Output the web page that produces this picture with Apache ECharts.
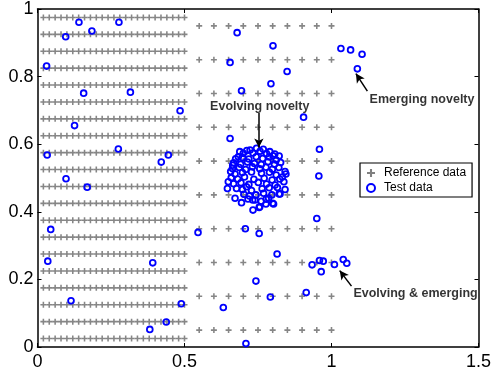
<!DOCTYPE html>
<html>
<head>
<meta charset="utf-8">
<script src="https://cdn.jsdelivr.net/npm/echarts@6/dist/echarts.min.js"></script>
<style>
  html, body { margin: 0; padding: 0; background: #fff; }
  #chart { width: 494px; height: 377px; }
</style>
</head>
<body>
<div id="chart"></div>
<script>
// Reference grid: dense block on the left, sparse block on the right
const denseCols = [0.02, 0.04, 0.06, 0.08, 0.10, 0.12, 0.14, 0.16, 0.18, 0.20, 0.22, 0.24, 0.26,
                   0.28, 0.30, 0.32, 0.34, 0.36, 0.38, 0.40, 0.42, 0.44, 0.46, 0.48, 0.50];
const denseRows = [0.025, 0.075, 0.125, 0.175, 0.225, 0.275, 0.325, 0.375, 0.425, 0.475,
                   0.525, 0.575, 0.625, 0.675, 0.725, 0.775, 0.825, 0.875, 0.925, 0.975];
const sparseCols = [0.55, 0.60, 0.65, 0.70, 0.75, 0.80, 0.85, 0.90, 0.95, 1.00];
const sparseRows = [0.05, 0.15, 0.25, 0.35, 0.45, 0.55, 0.65, 0.75, 0.85, 0.95];

// Test samples scattered over the dense block
const testLeft = [
  [0.141, 0.961], [0.096, 0.918], [0.185, 0.935], [0.277, 0.961], [0.031, 0.831],
  [0.157, 0.751], [0.316, 0.754], [0.485, 0.699], [0.126, 0.655], [0.033, 0.568],
  [0.275, 0.586], [0.445, 0.568], [0.421, 0.547], [0.097, 0.498], [0.169, 0.473],
  [0.045, 0.348], [0.035, 0.254], [0.392, 0.249], [0.114, 0.137], [0.489, 0.128],
  [0.438, 0.074], [0.382, 0.052]
];
// Test samples scattered over the sparse block
const testRight = [
  [0.546, 0.339], [0.632, 0.117], [0.709, 0.010], [0.679, 0.930], [0.801, 0.891],
  [0.655, 0.842], [0.849, 0.815], [0.794, 0.779], [0.694, 0.758], [0.905, 0.680],
  [0.655, 0.617], [0.959, 0.585], [0.957, 0.506], [0.950, 0.380], [0.707, 0.350],
  [0.754, 0.336], [0.815, 0.275], [0.743, 0.195], [0.792, 0.148], [0.914, 0.161]
];
// Emerging novelty (beyond the reference range, top right)
const testEmerging = [[1.032, 0.883], [1.065, 0.879], [1.104, 0.866], [1.088, 0.823]];
// Evolving & emerging group (lower right)
const testEvolvingEmerging = [
  [0.934, 0.243], [0.959, 0.256], [0.972, 0.254], [0.965, 0.223], [1.010, 0.244],
  [1.040, 0.259], [1.052, 0.248]
];
// Evolving novelty cluster
const testCluster = [
  [0.646, 0.469], [0.649, 0.489], [0.657, 0.519], [0.664, 0.538], [0.683, 0.563],
  [0.700, 0.573], [0.723, 0.583], [0.745, 0.588], [0.768, 0.585], [0.790, 0.578],
  [0.807, 0.571], [0.822, 0.565], [0.842, 0.519], [0.845, 0.512], [0.838, 0.489],
  [0.842, 0.466], [0.822, 0.453], [0.800, 0.425], [0.777, 0.423], [0.756, 0.415],
  [0.733, 0.405], [0.740, 0.435], [0.694, 0.427], [0.672, 0.440], [0.677, 0.469],
  [0.711, 0.474], [0.743, 0.450], [0.732, 0.435], [0.797, 0.450], [0.825, 0.453],
  [0.803, 0.423], [0.754, 0.413],
  [0.688, 0.578], [0.712, 0.581], [0.733, 0.574], [0.757, 0.579], [0.779, 0.572], [0.801, 0.566],
  [0.674, 0.557], [0.697, 0.561], [0.719, 0.556], [0.744, 0.563], [0.766, 0.558], [0.788, 0.562],
  [0.812, 0.553], [0.667, 0.545], [0.691, 0.541], [0.714, 0.547], [0.738, 0.543], [0.761, 0.540],
  [0.784, 0.548], [0.806, 0.541], [0.827, 0.546], [0.663, 0.528], [0.686, 0.531], [0.708, 0.525],
  [0.731, 0.533], [0.756, 0.527], [0.777, 0.532], [0.799, 0.526], [0.821, 0.531], [0.672, 0.512],
  [0.697, 0.516], [0.728, 0.518], [0.762, 0.514], [0.789, 0.517], [0.812, 0.509], [0.833, 0.503],
  [0.659, 0.501], [0.681, 0.497], [0.704, 0.503], [0.736, 0.496], [0.771, 0.499], [0.798, 0.494],
  [0.824, 0.497], [0.667, 0.483], [0.692, 0.486], [0.719, 0.481], [0.751, 0.487], [0.779, 0.482],
  [0.808, 0.479], [0.697, 0.466], [0.728, 0.463], [0.764, 0.468], [0.788, 0.471], [0.816, 0.472],
  [0.702, 0.452], [0.721, 0.447], [0.769, 0.455], [0.786, 0.441], [0.716, 0.438], [0.761, 0.431],
  [0.778, 0.437]
];

// Annotation text anchors and arrows (data coordinates)
const notes = [
  { text: 'Evolving novelty', at: [0.756, 0.711], from: [0.753, 0.692], to: [0.753, 0.590] },
  { text: 'Emerging novelty', at: [1.308, 0.731], from: [1.122, 0.757], to: [1.083, 0.809] },
  { text: 'Evolving & emerging', at: [1.286, 0.157], from: [1.068, 0.180], to: [1.028, 0.226] }
];

const xTicks = { min: 0, max: 1.5, interval: 0.5 };
const yTicks = { min: 0, max: 1, interval: 0.2 };

function grid(cols, rows) {
  const out = [];
  rows.forEach(function (y) { cols.forEach(function (x) { out.push([x, y]); }); });
  return out;
}
const referenceData = grid(denseCols, denseRows).concat(grid(sparseCols, sparseRows));
const testData = testLeft.concat(testRight, testEmerging, testEvolvingEmerging, testCluster);

const FONT = '"Liberation Sans", Arial, Helvetica, sans-serif';
const PLUS = 'path://M-1.3,-5H1.3V-1.3H5V1.3H1.3V5H-1.3V1.3H-5V-1.3H-1.3Z';

function axisBase(extra) {
  return Object.assign({
    type: 'value',
    splitLine: { show: false },
    axisLine: { show: true, onZero: false, lineStyle: { color: '#000', width: 1.5 } },
    axisTick: { show: true, inside: true, length: 4, lineStyle: { color: '#000', width: 1 } }
  }, extra);
}

const chart = echarts.init(document.getElementById('chart'), null, { renderer: 'canvas' });
chart.setOption({
  backgroundColor: '#fff',
  animation: false,
  grid: { left: 37.5, right: 15, top: 9, bottom: 30, containLabel: false },
  xAxis: [
    axisBase(Object.assign({ position: 'bottom',
      axisLabel: { color: '#000', fontSize: 18, fontFamily: FONT, margin: 6,
                   formatter: function (v) { return String(+v.toFixed(1)); } } }, xTicks)),
    axisBase(Object.assign({ position: 'top', axisLabel: { show: false } }, xTicks))
  ],
  yAxis: [
    axisBase(Object.assign({ position: 'left',
      axisLabel: { color: '#000', fontSize: 18, fontFamily: FONT, margin: 4,
                   formatter: function (v) { return String(+v.toFixed(1)); } } }, yTicks)),
    axisBase(Object.assign({ position: 'right', axisLabel: { show: false } }, yTicks))
  ],
  legend: {
    orient: 'vertical',
    left: 360, top: 163,
    padding: [4, 6, 3, 6],
    itemGap: 3,
    itemWidth: 12, itemHeight: 8,
    backgroundColor: '#fff',
    borderColor: '#000', borderWidth: 1.2, borderRadius: 0,
    textStyle: { color: '#000', fontSize: 12, fontFamily: FONT, padding: [0, 0, 0, 2] },
    data: [
      { name: 'Reference data', icon: PLUS, itemStyle: { color: '#808080' } },
      { name: 'Test data', icon: 'circle',
        itemStyle: { color: '#fff', borderColor: '#0000ff', borderWidth: 2 } }
    ]
  },
  series: [
    {
      name: 'Reference data',
      type: 'scatter',
      data: referenceData,
      symbol: PLUS,
      symbolSize: 6,
      itemStyle: { color: '#868686', opacity: 1 },
      emphasis: { disabled: true },
      z: 2
    },
    {
      name: 'Test data',
      type: 'scatter',
      data: testData,
      symbol: 'circle',
      symbolSize: 5.8,
      itemStyle: { color: 'rgba(0,0,0,0)', borderColor: '#0000ff', borderWidth: 1.8, opacity: 1 },
      emphasis: { disabled: true },
      z: 3,
      markLine: {
        silent: true,
        symbol: ['none', 'arrow'],
        symbolSize: [7, 9],
        label: { show: false },
        lineStyle: { color: '#000', width: 1.5, type: 'solid' },
        data: notes.map(function (n) {
          return [{ coord: n.from }, { coord: n.to }];
        })
      }
    },
    {
      name: 'notes',
      type: 'scatter',
      data: notes.map(function (n) { return { value: n.at, name: n.text }; }),
      symbolSize: 0,
      silent: true,
      z: 4,
      label: {
        show: true,
        position: 'inside',
        formatter: '{b}',
        color: '#000',
        fontSize: 12.5,
        fontWeight: 'bold',
        fontFamily: FONT
      }
    }
  ]
});
</script>
</body>
</html>
